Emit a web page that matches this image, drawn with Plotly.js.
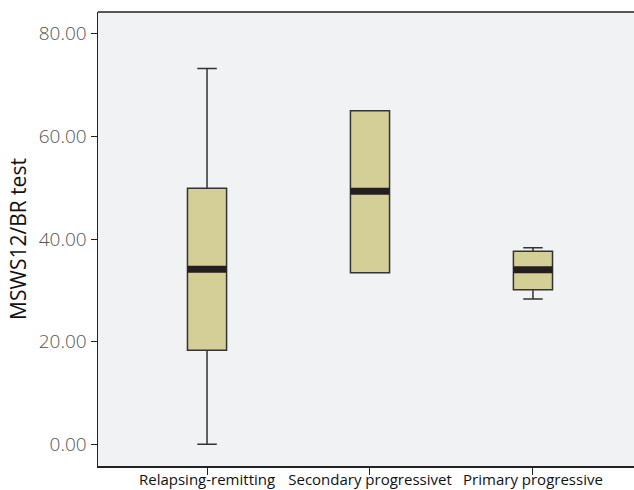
<!DOCTYPE html>
<html>
<head>
<meta charset="utf-8">
<script src="https://cdn.plot.ly/plotly-3.0.1.min.js"></script>
<style>html,body{margin:0;padding:0;background:#fff;}#chart{width:634px;height:490px;}</style>
</head>
<body>
<div id="chart"></div>
<script>
var categories = ["Relapsing-remitting", "Secondary progressivet", "Primary progressive"];
var lowerWhisker = [0.0, 33.4, 28.3];
var q1Values = [18.3, 33.4, 30.1];
var medianValues = [34.1, 49.3, 34.0];
var q3Values = [49.9, 65.0, 37.6];
var upperWhisker = [73.2, 65.0, 38.3];
var yTickValues = [0, 20, 40, 60, 80];
var yTickLabels = ["0.00", "20.00", "40.00", "60.00", "80.00"];

var boxHalf = 0.12;

var trace = {
  type: "box",
  x: categories,
  q1: q1Values,
  median: medianValues,
  q3: q3Values,
  lowerfence: lowerWhisker,
  upperfence: upperWhisker,
  width: boxHalf * 2,
  whiskerwidth: 0.5,
  fillcolor: "#d4cf97",
  line: {color: "#333333", width: 1.5},
  hoverinfo: "none",
  showlegend: false
};

var shapes = medianValues.map(function (m, i) {
  return {
    type: "line", xref: "x", yref: "y",
    x0: i - boxHalf, x1: i + boxHalf, y0: m, y1: m,
    line: {color: "#231f20", width: 7}
  };
});
shapes.push({
  type: "line", xref: "paper", yref: "paper",
  x0: 0, x1: 1, y0: 1, y1: 1,
  line: {color: "#222222", width: 1.5}
});

var layout = {
  width: 634, height: 490,
  margin: {l: 98, r: 0, t: 12, b: 24, pad: 0},
  paper_bgcolor: "#ffffff",
  plot_bgcolor: "#f1f2f4",
  font: {family: "'Open Sans', Roboto, sans-serif"},
  shapes: shapes,
  xaxis: {
    type: "category",
    range: [-0.669, 2.62],
    showgrid: false, zeroline: false,
    showline: true, linecolor: "#222222", linewidth: 1.5,
    ticks: "outside", ticklen: 7, tickcolor: "#222222", tickwidth: 1,
    ticklabelstandoff: -8,
    tickangle: 0,
    tickfont: {size: 15, color: "#111111"},
    fixedrange: true
  },
  yaxis: {
    range: [-4.23, 84.23],
    tickvals: yTickValues, ticktext: yTickLabels,
    showgrid: false, zeroline: false,
    showline: true, linecolor: "#222222", linewidth: 1.5,
    ticks: "outside", ticklen: 6, tickcolor: "#222222", tickwidth: 1,
    tickfont: {size: 19, color: "#555555", weight: 300},
    title: {text: "MSWS12/BR test", font: {size: 21, color: "#111111"}, standoff: 6},
    fixedrange: true
  }
};

Plotly.newPlot("chart", [trace], layout, {displayModeBar: false, staticPlot: true});
</script>
</body>
</html>
